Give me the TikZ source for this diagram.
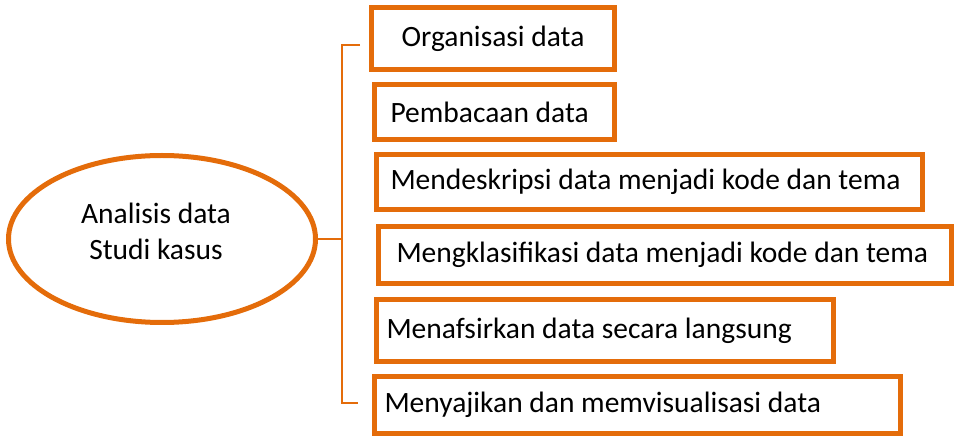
\documentclass[tikz,border=0pt]{standalone}
\usepackage{fontspec}
\setmainfont{Carlito}
\usepackage{xcolor}
\usetikzlibrary{shapes.geometric,positioning}
\definecolor{oranye}{RGB}{228,108,10}
\tikzset{
  kotak/.style={draw=oranye,line width=5pt,rectangle,align=flush left,font=\fontsize{29.5}{35}\selectfont},
  elips/.style={draw=oranye,line width=5pt,ellipse},
  tulisan/.style={align=center,font=\fontsize{29.5}{36}\selectfont},
  garis/.style={draw=oranye,line width=2pt}
}

\begin{document}
\begin{tikzpicture}[x=1pt,y=-1pt]
                \useasboundingbox (0,0) rectangle (956,438);
                \node[elips,minimum width=307,minimum height=167] (analisis) at (162,239) {};
                \node[tulisan] (judul) at (156,231) {Analisis data\\Studi kasus};
                \node[kotak,minimum width=243,minimum height=62,align=center] (organisasi) at (493,38.5) {Organisasi data};
                \node[kotak,inner xsep=16,text width=208,minimum height=55] (pembacaan) at (494.5,112) {Pembacaan data};
                \node[kotak,inner xsep=14,text width=518,minimum height=55] (deskripsi) at (649.5,182) {Mendeskripsi data menjadi kode dan tema};
                \node[kotak,inner xsep=18,text width=537,minimum height=57] (klasifikasi) at (665,255) {Mengklasifikasi data menjadi kode dan tema};
                \node[kotak,inner xsep=10,text width=437,minimum height=62] (tafsir) at (605,330.5) {Menafsirkan data secara langsung};
                \node[kotak,inner xsep=10,text width=506,minimum height=57] (sajikan) at (637.5,405) {Menyajikan dan memvisualisasi data};
                \coordinate (atas) at (342,45);
                \coordinate (bawah) at (342,403);
                \coordinate (ujungatas) at (360,45);
                \coordinate (ujungbawah) at (358,403);
                \draw[garis] (ujungatas) -- (atas) -- (bawah) -- (ujungbawah);
                \draw[garis] (analisis.east) -- (analisis.east -| atas);
            \end{tikzpicture}
\end{document}
